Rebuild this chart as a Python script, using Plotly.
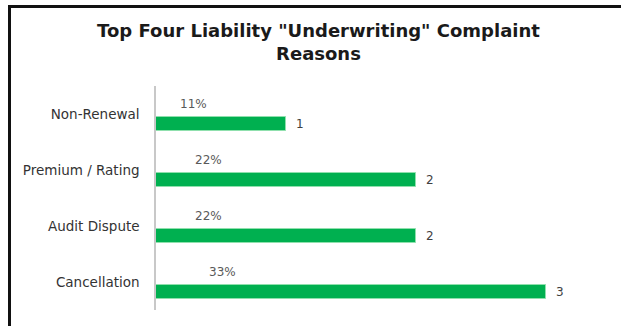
import plotly.graph_objects as go

# Complaint reasons, listed bottom-to-top on the category axis
reasons = ["Cancellation", "Audit Dispute", "Premium / Rating", "Non-Renewal"]
counts = [3, 2, 2, 1]
shares = [0.33, 0.22, 0.22, 0.11]
share_labels = ["33%", "22%", "22%", "11%"]

GREEN = "#00B050"
FONT = "DejaVu Sans"

W, H = 621, 326
L, R, T, B = 156, 10, 86, 16
plot_w = W - L - R
plot_h = H - T - B
x_max = 3.5

fig = go.Figure()
fig.add_trace(go.Bar(
    y=reasons, x=counts, orientation="h",
    marker=dict(color=GREEN, line=dict(color="#8fe0ad", width=1)),
    width=0.249, offset=-0.2985,
    hoverinfo="skip", showlegend=False,
))

# count labels to the right of each bar
for r, c in zip(reasons, counts):
    fig.add_annotation(x=c, y=r, text=str(c), showarrow=False,
                       xanchor="left", yanchor="middle", xshift=8, yshift=-9.8,
                       font=dict(family=FONT, size=12, color="#404040"))
# share labels above each bar
for r, s, t in zip(reasons, shares, share_labels):
    fig.add_annotation(x=s, y=r, text=t, showarrow=False,
                       xanchor="left", yanchor="middle", xshift=8, yshift=9.8,
                       font=dict(family=FONT, size=12, color="#595959"))


def px_x(p):
    return (p - L) / plot_w


def px_y(p):
    return (H - B - p) / plot_h


# outer frame: top and left edges
fig.add_shape(type="path", xref="paper", yref="paper",
              path=f"M {px_x(640)},{px_y(6.5)} L {px_x(9.5)},{px_y(6.5)} L {px_x(9.5)},{px_y(340)}",
              line=dict(color="#111111", width=3))

fig.update_layout(
    width=W, height=H,
    margin=dict(l=L, r=R, t=T, b=B, pad=0),
    paper_bgcolor="white", plot_bgcolor="white",
    title=dict(text="Top Four Liability \"Underwriting\" Complaint<br>Reasons",
               x=(318.5) / W, xanchor="center", y=1 - 37 / H, yanchor="top",
               yref="container", xref="container",
               font=dict(family=FONT, size=18, color="#1a1a1a", weight="bold")),
    xaxis=dict(range=[0, x_max], visible=False, fixedrange=True),
    yaxis=dict(range=[-0.5, 3.5], showgrid=False, zeroline=False,
               showline=True, linecolor="#c8c8c8", linewidth=1.5,
               ticks="", ticklabelstandoff=12,
               tickfont=dict(family=FONT, size=13.5, color="#333333")),
    bargap=0,
)

fig.write_html("out.html")
